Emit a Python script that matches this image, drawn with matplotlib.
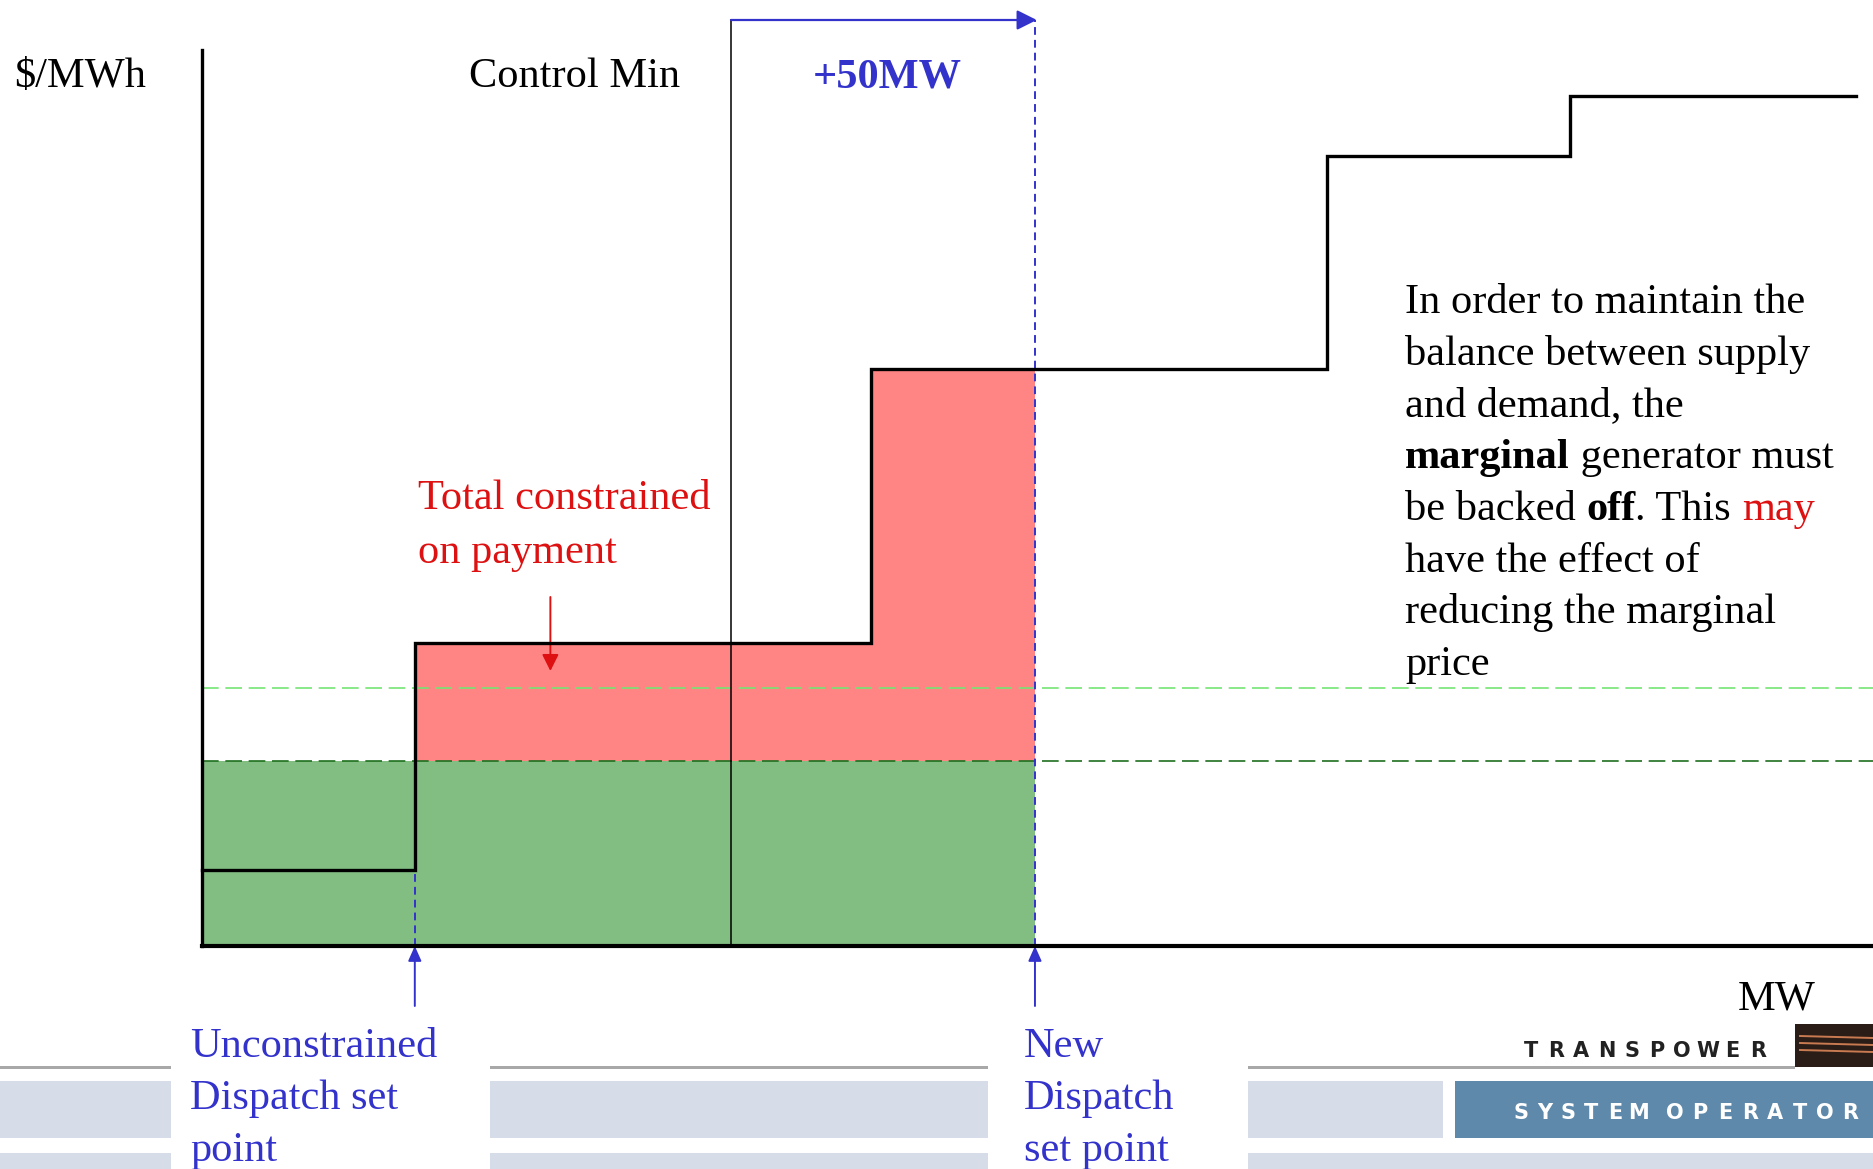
import matplotlib
matplotlib.use("Agg")
import matplotlib.pyplot as plt
from matplotlib.patches import Rectangle, FancyArrowPatch
from matplotlib.transforms import Affine2D

# ---- data (MW / $/MWh) ----
offer_mw = [0, 35, 110, 185, 225, 272]          # step edges of the offer stack
offer_price = [7.6, 30.3, 57.7, 79.0, 85.0, 85.0]
unconstrained_mw = 35
control_min_mw = 87
new_dispatch_mw = 137                            # control min + 50MW
old_marginal_price = 25.8                        # light green dashed
new_marginal_price = 18.5                        # dark green dashed

W, H = 1873, 1169
fig = plt.figure(figsize=(W / 100, H / 100), dpi=100)
fig.patch.set_facecolor("white")
ax = fig.add_axes([0, 0, 1, 1])
ax.set_axis_off()

# 0 MW sits at 202 px, 6.08 px per MW; 0 $/MWh at 946 px, 10 px per unit
ax.set_xlim(-202 / 6.08, (W - 202) / 6.08)
ax.set_ylim(-(H - 946) / 10, 946 / 10)
x_end = (W - 202) / 6.08

# pixel transform (origin top-left) for annotations / footer
px = Affine2D().scale(1 / W, -1 / H).translate(0, 1) + fig.transFigure

BLUE = "#3333cc"
RED = "#dd1111"
serif = "Liberation Serif"
fs = 30.5

# ---- fills ----
ax.fill_between([0, new_dispatch_mw], 0, new_marginal_price,
                color="#82bd82", lw=0, zorder=1)
fill_x = [unconstrained_mw, 110, new_dispatch_mw]
fill_y = [offer_price[1], offer_price[2], offer_price[2]]
ax.fill_between(fill_x, new_marginal_price, fill_y, step="post",
                color="#ff8585", lw=0, zorder=1)

# ---- marginal price lines ----
ax.plot([0, x_end], [old_marginal_price] * 2, color="#74e474",
        lw=1.2, dashes=(10, 4), zorder=2)
ax.plot([0, x_end], [new_marginal_price] * 2, color="#1f6f1f",
        lw=1.2, dashes=(10, 4), zorder=2)

# ---- control min + dispatch markers ----
ax.plot([control_min_mw] * 2, [0, 92.6], color="black", lw=1.1, zorder=3)
ax.plot([unconstrained_mw] * 2, [0, offer_price[1]], color=BLUE,
        lw=1.4, dashes=(4, 2.6), zorder=3)
ax.plot([new_dispatch_mw] * 2, [0, 92.6], color=BLUE,
        lw=1.4, dashes=(4, 2.6), zorder=3)
ax.add_patch(FancyArrowPatch((control_min_mw, 92.6), (new_dispatch_mw + 0.3, 92.6),
                             arrowstyle="-|>,head_length=12,head_width=6",
                             color=BLUE, lw=1.6, shrinkA=0, shrinkB=0, zorder=4))
for m in (unconstrained_mw, new_dispatch_mw):
    ax.add_patch(FancyArrowPatch((m, -6.0), (m, 0), color=BLUE, lw=1.4,
                                 arrowstyle="-|>,head_length=9,head_width=4",
                                 shrinkA=0, shrinkB=0, zorder=4))
ax.add_patch(FancyArrowPatch((57.3, 34.9), (57.3, 27.5), color=RED, lw=1.4,
                             arrowstyle="-|>,head_length=10,head_width=5",
                             shrinkA=0, shrinkB=0, zorder=4))

# ---- offer curve + axes ----
ax.step(offer_mw, offer_price, where="post", color="black", lw=2.4,
        solid_joinstyle="miter", zorder=5)
ax.plot([0, 0], [0, 89.6], color="black", lw=2.4, zorder=5)
ax.plot([0, x_end], [0, 0], color="black", lw=3.0, zorder=5)

# ---- labels ----
def label(x, y, s, color="black", weight="normal"):
    return ax.text(x, y, s, transform=px, fontsize=fs, family=serif,
                   color=color, weight=weight, va="baseline", ha="left")

label(14, 87, "$/MWh")
label(469, 87, "Control Min")
label(813, 88, "+50MW", color=BLUE, weight="bold")
label(418, 509, "Total constrained", color=RED)
label(418, 563, "on payment", color=RED)
label(1738, 1009, "MW")
label(190, 1057, "Unconstrained", color=BLUE)
label(190, 1109, "Dispatch set", color=BLUE)
label(190, 1161, "point", color=BLUE)
label(1024, 1057, "New", color=BLUE)
label(1024, 1109, "Dispatch", color=BLUE)
label(1024, 1161, "set point", color=BLUE)

# right-hand note, mixed styles per line
note = [
    [("In order to maintain the", "black", "normal")],
    [("balance between supply", "black", "normal")],
    [("and demand, the", "black", "normal")],
    [("marginal", "black", "bold"), (" generator must", "black", "normal")],
    [("be backed ", "black", "normal"), ("off", "black", "bold"),
     (". This ", "black", "normal"), ("may", RED, "normal")],
    [("have the effect of", "black", "normal")],
    [("reducing the marginal", "black", "normal")],
    [("price", "black", "normal")],
]
for i, parts in enumerate(note):
    y = 313 + i * 51.7
    prev = None
    for s, c, w in parts:
        if prev is None:
            prev = label(1405, y, s, color=c, weight=w)
        else:
            prev = ax.annotate(s, xy=(1, 0), xycoords=prev, fontsize=fs,
                               family=serif, color=c, weight=w,
                               va="bottom", ha="left")

# ---- footer (slide template) ----
band = "#d6dde8"
for x0, x1 in [(0, 171), (490, 988), (1248, 1795)]:
    ax.add_patch(Rectangle((x0, 1066), x1 - x0, 2.5, transform=px,
                           color="#a8a8a8", lw=0, zorder=0))
for x0, x1 in [(0, 171), (490, 988), (1248, 1443)]:
    ax.add_patch(Rectangle((x0, 1081), x1 - x0, 57, transform=px,
                           color=band, lw=0, zorder=0))
for x0, x1 in [(0, 171), (490, 988), (1248, W)]:
    ax.add_patch(Rectangle((x0, 1153), x1 - x0, 16, transform=px,
                           color=band, lw=0, zorder=0))
ax.add_patch(Rectangle((1455, 1081), W - 1455, 57, transform=px,
                       color="#5f89aa", lw=0, zorder=0))
ax.add_patch(Rectangle((1795, 1024), W - 1795, 43, transform=px,
                       color="#2a1c17", lw=0, zorder=0))
for yy in (1036, 1043, 1050):
    ax.plot([1800, W], [yy, yy + 2], transform=px, color="#c87a50",
            lw=1.4, zorder=1)

# letter-spaced logo words, one glyph at a time
logo_kw = dict(transform=px, fontsize=15, family="DejaVu Sans",
               weight="bold", va="baseline", ha="center")
for k, ch in enumerate("TRANSPOWER"):
    ax.text(1531 + k * 25.2, 1057, ch, color="#222222", **logo_kw)
for k, ch in enumerate("SYSTEM"):
    ax.text(1521 + k * 23.5, 1119, ch, color="white", **logo_kw)
for k, ch in enumerate("OPERATOR"):
    ax.text(1675 + k * 25.0, 1119, ch, color="white", **logo_kw)

fig.savefig("out.png", dpi=100, facecolor="white")
